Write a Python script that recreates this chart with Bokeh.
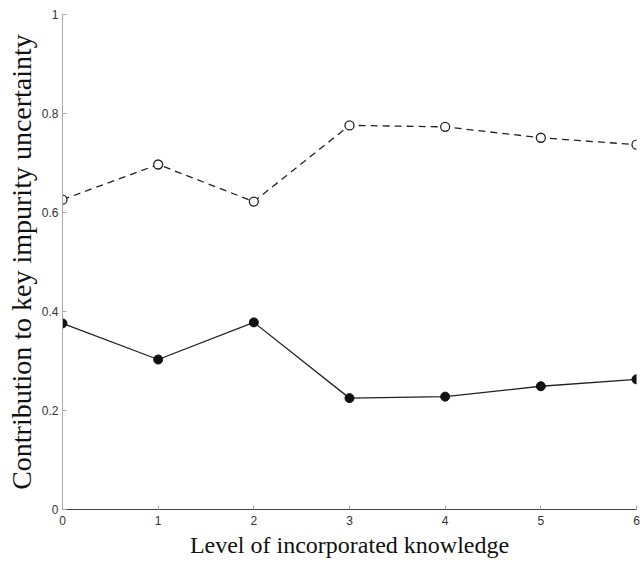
from bokeh.plotting import figure
from bokeh.models import FixedTicker, Range1d
from bokeh.embed import file_html
from bokeh.resources import INLINE

levels = [0, 1, 2, 3, 4, 5, 6]
open_series = [0.626, 0.697, 0.622, 0.776, 0.773, 0.751, 0.737]
filled_series = [0.376, 0.303, 0.378, 0.225, 0.228, 0.249, 0.263]
x_ticks = [0, 1, 2, 3, 4, 5, 6]
y_ticks = [0, 0.2, 0.4, 0.6, 0.8, 1]
y_tick_labels = ["0", "0.2", "0.4", "0.6", "0.8", "1"]
x_label = "Level of incorporated knowledge"
y_label = "Contribution to key impurity uncertainty"

p = figure(width=643, height=565, output_backend="svg", toolbar_location=None,
           x_range=Range1d(0, 6), y_range=Range1d(0, 1),
           min_border_left=62, min_border_right=7, min_border_top=14, min_border_bottom=56)
p.outline_line_color = None
p.grid.visible = False
p.background_fill_color = "white"
p.border_fill_color = "white"

p.line(levels, open_series, line_color="#222222", line_width=1.3, line_dash="7 5")
p.scatter(levels, open_series, marker="circle", size=9, line_color="#222222",
          fill_color="white", line_width=1.3)
p.line(levels, filled_series, line_color="#222222", line_width=1.3)
p.scatter(levels, filled_series, marker="circle", size=9, line_color="#111111",
          fill_color="#111111")

p.xaxis.ticker = FixedTicker(ticks=x_ticks)
p.yaxis.ticker = FixedTicker(ticks=y_ticks)
p.yaxis.major_label_overrides = {t: l for t, l in zip(y_ticks, y_tick_labels)}

for ax in (p.xaxis[0], p.yaxis[0]):
    ax.major_tick_in = 4
    ax.major_tick_out = 0
    ax.minor_tick_line_color = None
    ax.major_label_text_font = "Liberation Sans"
    ax.major_label_text_font_size = "12px"
    ax.major_label_text_color = "#333333"
    ax.axis_label_text_font = "Liberation Serif"
    ax.axis_label_text_font_style = "normal"
    ax.axis_label_text_color = "#111111"

p.xaxis.axis_label_text_font_size = "24px"
p.yaxis.axis_label_text_font_size = "28px"
p.xaxis.axis_label = x_label
p.yaxis.axis_label = y_label
p.yaxis.axis_line_color = "#aaaaaa"
p.yaxis.major_tick_line_color = "#aaaaaa"
p.xaxis.axis_line_color = "#444444"
p.xaxis.major_tick_line_color = "#aaaaaa"
p.xaxis.major_label_standoff = 6
p.yaxis.major_label_standoff = 4
p.xaxis.axis_label_standoff = 4
p.yaxis.axis_label_standoff = 2

open("out.html", "w").write(file_html(p, INLINE))
